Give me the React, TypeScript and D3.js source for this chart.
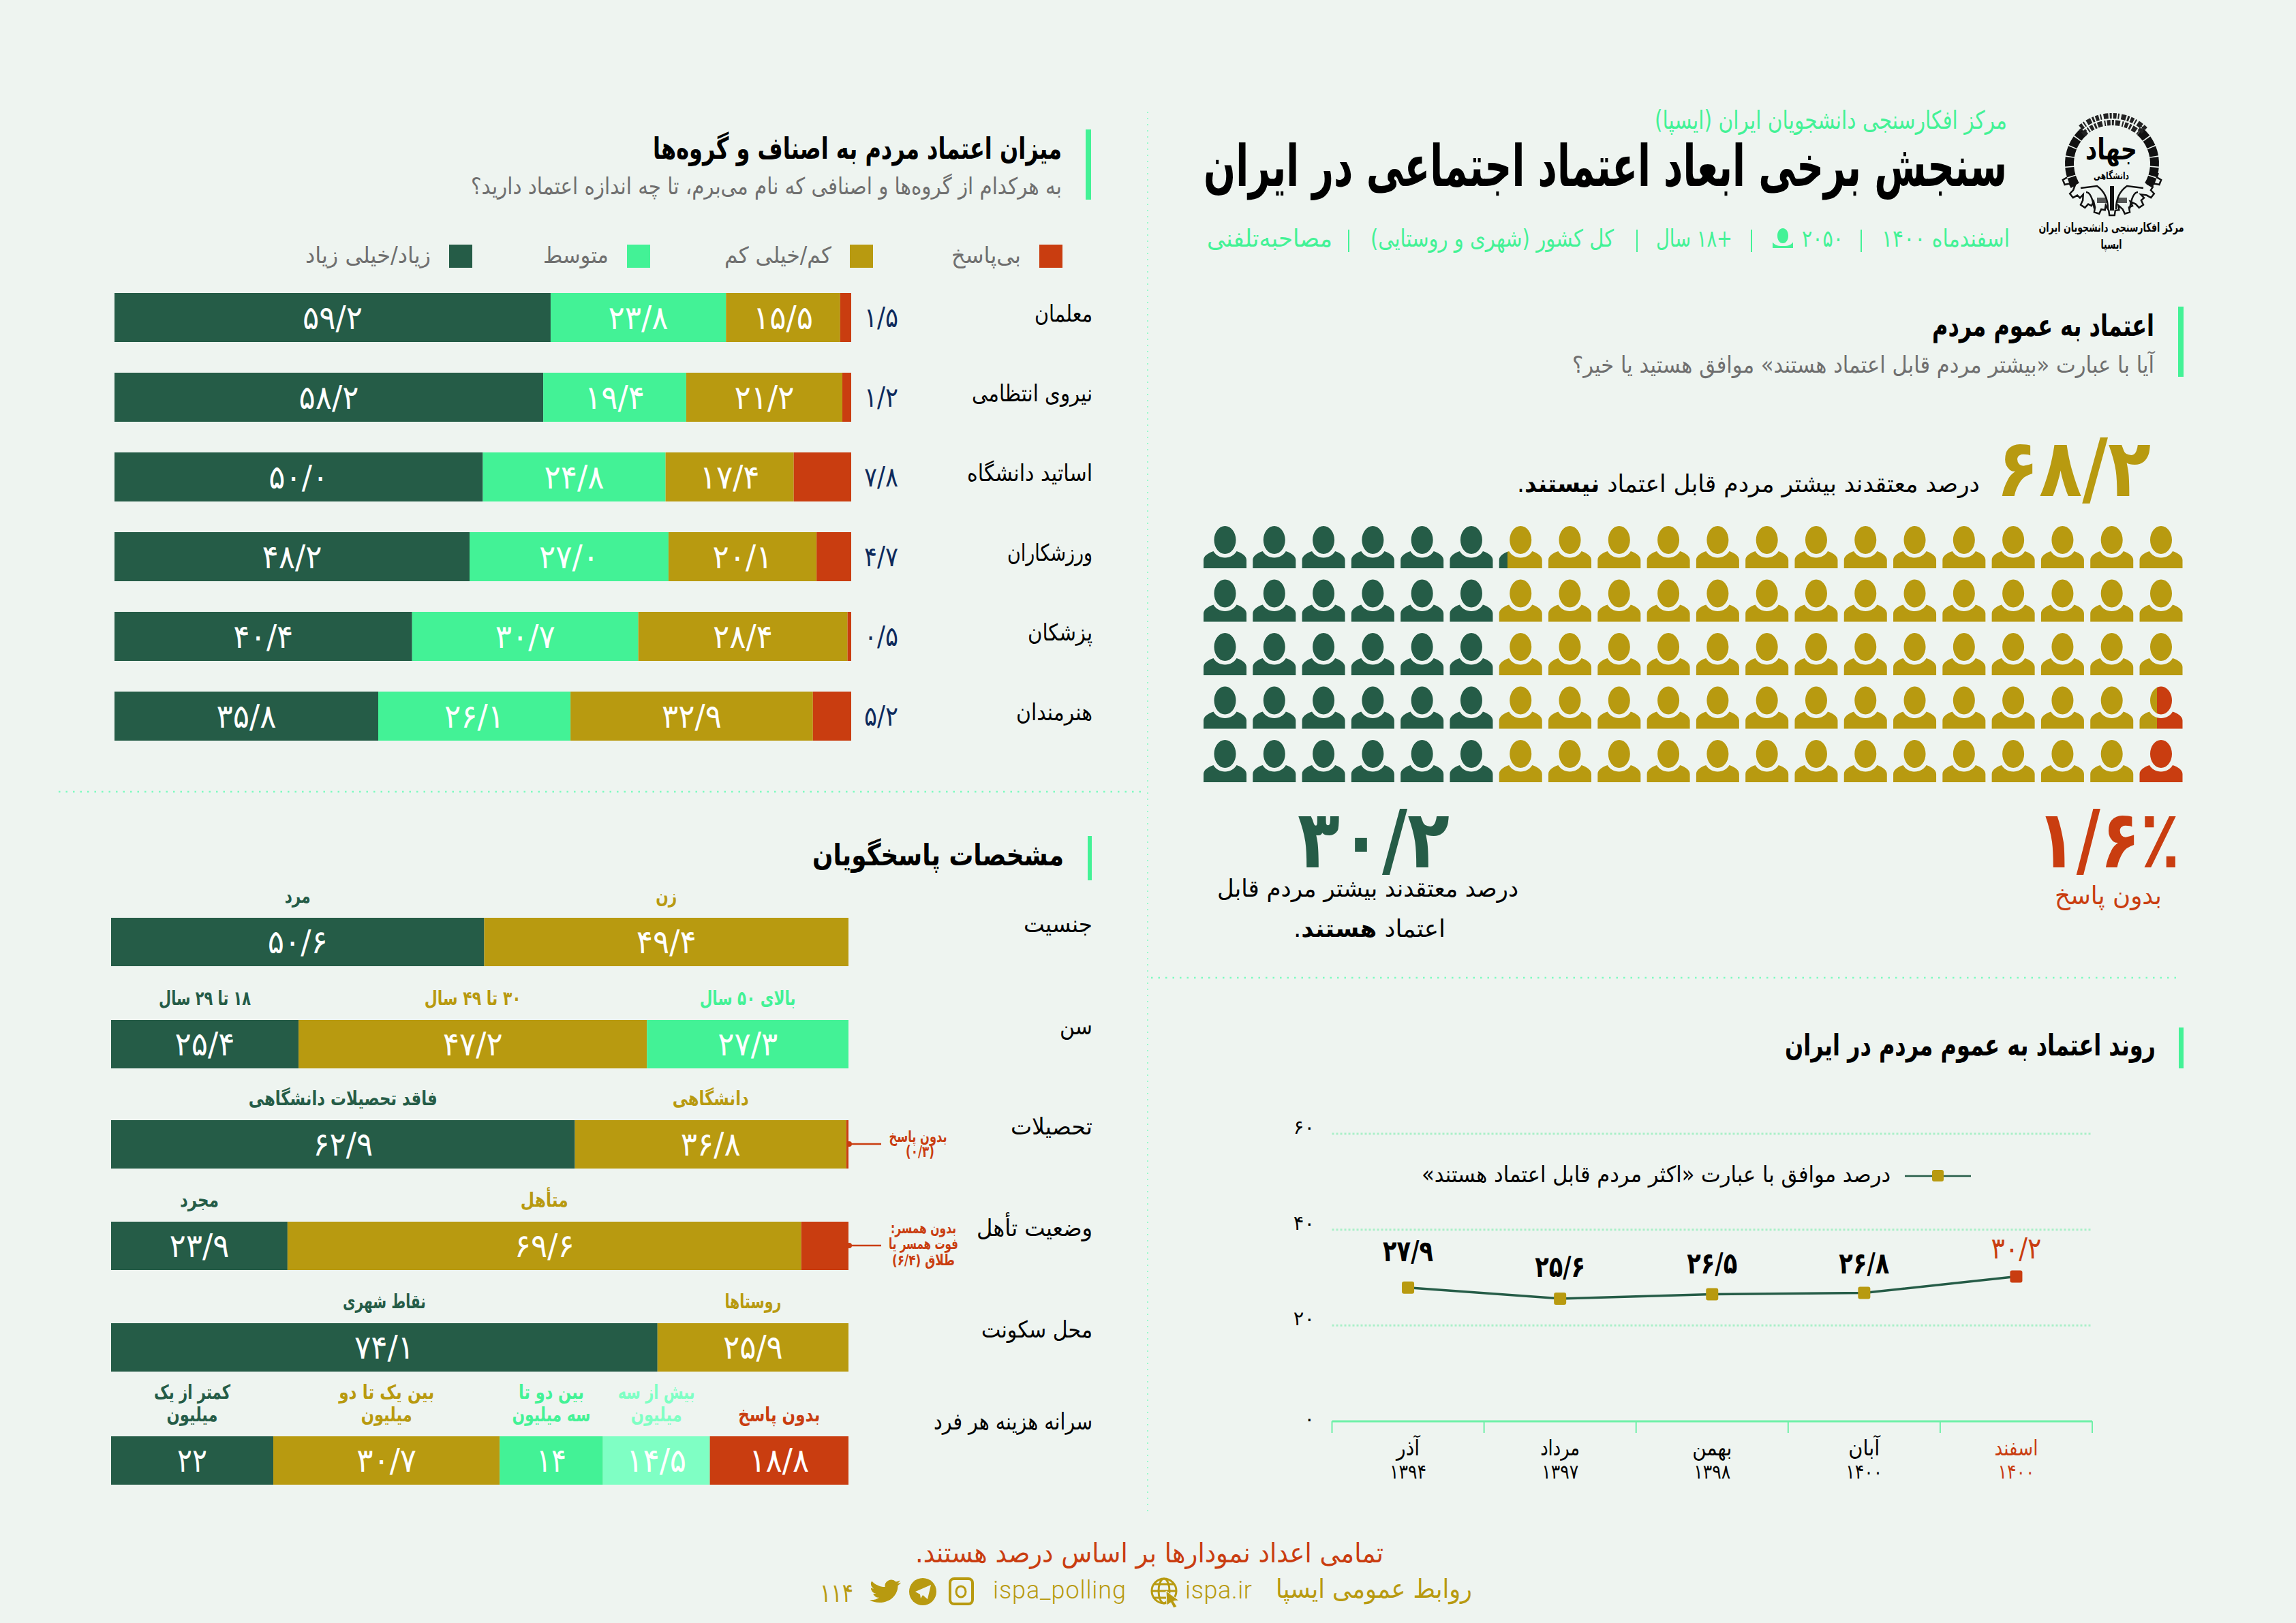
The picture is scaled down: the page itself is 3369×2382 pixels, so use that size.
import * as d3 from 'd3';

const BG = '#eef4f0';
const GREEN = '#255c47';
const MINT = '#43f296';
const PALE = '#7fffc4';
const GOLD = '#b89a10';
const RED = '#c93d10';
const NAVY = '#0d2a5c';
const GRAY = '#6f6f6f';
const FONT = '"DejaVu Sans", sans-serif';

// ── trust in groups ──
const groupNames = ['معلمان', 'نیروی انتظامی', 'اساتید دانشگاه', 'ورزشکاران', 'پزشکان', 'هنرمندان'];
const groupHigh = [59.2, 58.2, 50.0, 48.2, 40.4, 35.8];
const groupMid = [23.8, 19.4, 24.8, 27.0, 30.7, 26.1];
const groupLow = [15.5, 21.2, 17.4, 20.1, 28.4, 32.9];
const groupNone = [1.5, 1.2, 7.8, 4.7, 0.5, 5.2];
const legendNames = ['بی‌پاسخ', 'کم/خیلی کم', 'متوسط', 'زیاد/خیلی زیاد'];

// ── respondents ──
const demoNames = ['جنسیت', 'سن', 'تحصیلات', 'وضعیت تأهل', 'محل سکونت', 'سرانه هزینه هر فرد'];
const genderValues = [50.6, 49.4];
const genderLabels = [['مرد'], ['زن']];
const ageValues = [25.4, 47.2, 27.3];
const ageLabels = [['۱۸ تا ۲۹ سال'], ['۳۰ تا ۴۹ سال'], ['بالای ۵۰ سال']];
const eduValues = [62.9, 36.8, 0.3];
const eduLabels = [['فاقد تحصیلات دانشگاهی'], ['دانشگاهی'], []];
const maritalValues = [23.9, 69.6, 6.4];
const maritalLabels = [['مجرد'], ['متأهل'], []];
const placeValues = [74.1, 25.9];
const placeLabels = [['نقاط شهری'], ['روستاها']];
const costValues = [22, 30.7, 14, 14.5, 18.8];
const costLabels = [['کمتر از یک', 'میلیون'], ['بین یک تا دو', 'میلیون'], ['بین دو تا', 'سه میلیون'], ['بیش از سه', 'میلیون'], ['بدون پاسخ']];

// ── trend ──
const trendMonths = ['آذر', 'مرداد', 'بهمن', 'آبان', 'اسفند'];
const trendYears = ['۱۳۹۴', '۱۳۹۷', '۱۳۹۸', '۱۴۰۰', '۱۴۰۰'];
const trendValues = [27.9, 25.6, 26.5, 26.8, 30.2];
const trendTicks = [0, 20, 40, 60];

// ── people grid ──
const trustYes = 30.2;
const trustNone = 1.6;

const fa = (s: string | number) =>
  String(s).replace(/\d/g, d => '۰۱۲۳۴۵۶۷۸۹'[+d]).replace('.', '/');
const pct = (v: number) => fa(v.toFixed(1));
const pctShort = (v: number) => fa(Number.isInteger(v) ? v : v.toFixed(1));

function T({ x, y, w, size, fill = '#000', bold = false, anchor = 'right', children }: any) {
  const map: any = { right: 'start', left: 'end', center: 'middle' };
  return (
    <text
      x={x}
      y={y}
      fontSize={size}
      fill={fill}
      fontWeight={bold ? 700 : 400}
      textAnchor={map[anchor]}
      direction="rtl"
      textLength={w}
      lengthAdjust={w ? 'spacingAndGlyphs' : undefined}
    >
      {children}
    </text>
  );
}

const PERSON =
  'M31.5 0C40.3 0 47.5 9.2 47.5 20.5S40.3 41 31.5 41 15.5 31.8 15.5 20.5 22.7 0 31.5 0Z' +
  'M14.5 37C17.5 42.5 24 46.5 31.5 46.5S45.5 42.5 48.5 37C56.5 39.5 63 44 63 50V62H0V50C0 44 6.5 39.5 14.5 37Z';

function People() {
  const x = d3.scalePoint<number>().domain(d3.range(20)).range([1766, 3139.5]);
  const y = d3.scalePoint<number>().domain(d3.range(5)).range([772, 1086]);
  const cells = d3.cross(d3.range(20), d3.range(5));
  return (
    <g>
      {cells.map(([c, r]) => {
        const g = Math.max(0, Math.min(1, trustYes - (c * 5 + r)));
        const n = Math.max(0, Math.min(1, trustNone - ((19 - c) * 5 + (4 - r))));
        const id = `p${c}-${r}`;
        const split = (g > 0 && g < 1) || (n > 0 && n < 1);
        const solid = g === 1 ? GREEN : n === 1 ? RED : GOLD;
        return (
          <g key={id} transform={`translate(${x(c)},${y(r)})`}>
            {split && (
              <defs>
                <linearGradient id={id}>
                  <stop offset={g} stopColor={GREEN} />
                  <stop offset={g} stopColor={GOLD} />
                  <stop offset={1 - n} stopColor={GOLD} />
                  <stop offset={1 - n} stopColor={RED} />
                </linearGradient>
              </defs>
            )}
            <path d={PERSON} fill={split ? `url(#${id})` : solid} />
          </g>
        );
      })}
    </g>
  );
}

function GroupBars() {
  const x = d3.scaleLinear([0, 100], [168, 1249]);
  const y = d3.scaleBand<number>().domain(d3.range(6)).range([430, 1087]).paddingInner(45 / 117);
  const nameW = [85, 177, 184, 125, 95, 112];
  return (
    <g>
      {groupNames.map((name, i) => {
        const vals = [groupHigh[i], groupMid[i], groupLow[i], groupNone[i]];
        const cols = [GREEN, MINT, GOLD, RED];
        const starts = d3.cumsum(vals);
        const top = y(i)!;
        return (
          <g key={name}>
            {vals.map((v, k) => (
              <rect key={k} x={x(starts[k] - v)} y={top} width={x(v) - x(0)} height={y.bandwidth()} fill={cols[k]} />
            ))}
            {vals.slice(0, 3).map((v, k) => (
              <T key={k} x={x(starts[k] - v / 2)} y={top + 53} size={48} fill="#fff" anchor="center" w={88}>
                {pct(v)}
              </T>
            ))}
            <T x={1268} y={top + 50} size={40} fill={NAVY} anchor="left" w={50}>
              {pct(groupNone[i])}
            </T>
            <T x={1603} y={top + 42} size={34} w={nameW[i]}>
              {name}
            </T>
          </g>
        );
      })}
    </g>
  );
}

function DemoBars() {
  const rows = [
    { v: genderValues, l: genderLabels, c: [GREEN, GOLD], w: [38, 31] },
    { v: ageValues, l: ageLabels, c: [GREEN, GOLD, MINT], w: [135, 142, 141] },
    { v: eduValues, l: eduLabels, c: [GREEN, GOLD, RED], w: [277, 112, 0] },
    { v: maritalValues, l: maritalLabels, c: [GREEN, GOLD, RED], w: [57, 70, 0] },
    { v: placeValues, l: placeLabels, c: [GREEN, GOLD], w: [122, 83] },
    { v: costValues, l: costLabels, c: [GREEN, GOLD, MINT, PALE, RED], w: [112, 140, 96, 113, 120] },
  ];
  const tops = [1347, 1497, 1644, 1793, 1942, 2108];
  const nameW = [101, 48, 120, 170, 163, 233];
  const lineW: any = { میلیون: 75, 'سه میلیون': 115 };
  return (
    <g>
      {rows.map((row, i) => {
        const x = d3.scaleLinear([0, d3.sum(row.v)], [163, 1245]);
        const starts = d3.cumsum(row.v);
        const top = tops[i];
        return (
          <g key={i}>
            {row.v.map((v, k) => {
              const mid = x(starts[k] - v / 2);
              const lines = row.l[k];
              const text = pctShort(v);
              return (
                <g key={k}>
                  <rect x={x(starts[k] - v)} y={top} width={x(v) - x(0)} height={71} fill={row.c[k]} />
                  {lines.length > 0 && (
                    <T x={mid} y={top + 52} size={48} fill="#fff" anchor="center" w={text.length * 22}>
                      {text}
                    </T>
                  )}
                  {lines.map((s, j) => (
                    <T
                      key={j}
                      x={mid}
                      y={top - 22 - (lines.length - 1 - j) * 33}
                      size={29}
                      bold
                      fill={row.c[k]}
                      anchor="center"
                      w={j === 1 ? lineW[s] : row.w[k]}
                    >
                      {s}
                    </T>
                  ))}
                </g>
              );
            })}
            <T x={1603} y={i === 5 ? top - 10 : top + 21} size={34} w={nameW[i]}>
              {demoNames[i]}
            </T>
          </g>
        );
      })}
      <g stroke={RED} strokeWidth={2.5}>
        <line x1={1245} x2={1293} y1={1679} y2={1679} />
        <line x1={1245} x2={1293} y1={1828} y2={1828} />
      </g>
      <circle cx={1246} cy={1679} r={4} fill={RED} />
      <circle cx={1246} cy={1828} r={4} fill={RED} />
      <T x={1347} y={1676} size={23} bold fill={RED} anchor="center" w={85}>بدون پاسخ</T>
      <T x={1350} y={1698} size={23} bold fill={RED} anchor="center" w={42}>(۰/۳)</T>
      <T x={1355} y={1810} size={22} bold fill={RED} anchor="center" w={96}>بدون همسر:</T>
      <T x={1355} y={1833} size={22} bold fill={RED} anchor="center" w={102}>فوت همسر یا</T>
      <T x={1355} y={1857} size={22} bold fill={RED} anchor="center" w={92}>طلاق (۶/۴)</T>
    </g>
  );
}

function Trend() {
  const x = d3.scaleBand<number>().domain(d3.range(5)).range([1954.5, 3070]);
  const y = d3.scaleLinear([0, 60], [2086, 1664]);
  const line = d3.line<number>((_, i) => x(i)! + x.bandwidth() / 2, d => y(d));
  const nudge = [-39, -32, -31, -29, -27];
  return (
    <g>
      {trendTicks.map(t => (
        <g key={t}>
          {t > 0 && <line x1={1954.5} x2={3070} y1={y(t)} y2={y(t)} stroke="#a9efc8" strokeWidth={3} strokeDasharray="3 3" />}
          <T x={1929} y={y(t) - (t > 0 ? 0 : -6)} size={29} anchor="right">
            {fa(t)}
          </T>
        </g>
      ))}
      <line x1={1954.5} x2={3070} y1={2086} y2={2086} stroke="#6ff0a8" strokeWidth={3} />
      {d3.range(6).map(i => {
        const px = 1954.5 + i * x.step();
        return <line key={i} x1={px} x2={px} y1={2086} y2={2103} stroke="#6ff0a8" strokeWidth={2} />;
      })}
      <path d={line(trendValues)!} fill="none" stroke={GREEN} strokeWidth={3.5} />
      {trendValues.map((v, i) => {
        const cx = x(i)! + x.bandwidth() / 2;
        const last = i === trendValues.length - 1;
        const color = last ? RED : GOLD;
        return (
          <g key={i}>
            <rect x={cx - 9} y={y(v) - 9} width={18} height={18} rx={3} fill={color} />
            <T x={cx} y={y(v) + nudge[i]} size={43} bold={!last} fill={last ? RED : '#000'} anchor="center" w={74}>
              {pct(v)}
            </T>
            <T x={cx} y={2136} size={32} fill={last ? RED : '#000'} anchor="center" w={[34, 58, 58, 46, 64][i]}>
              {trendMonths[i]}
            </T>
            <T x={cx} y={2170} size={29} fill={last ? RED : '#000'} anchor="center" w={54}>
              {trendYears[i]}
            </T>
          </g>
        );
      })}
      <line x1={2795} x2={2892} y1={1726} y2={1726} stroke={GREEN} strokeWidth={2.5} />
      <rect x={2835} y={1717} width={17} height={17} rx={3} fill={GOLD} />
      <T x={2774} y={1735} size={33} w={688}>
        درصد موافق با عبارت «اکثر مردم قابل اعتماد هستند»
      </T>
    </g>
  );
}

function Logo() {
  const cx = 3099;
  const cy = 240;
  const arc = d3.arc();
  const seg = 0.235;
  const startAngles = d3.range(0.72, 1.95, seg);
  const teeth = d3.range(-1.2, 1.2001, 0.3);
  const gear = teeth.flatMap(t => {
    const a = Math.PI + t;
    return [
      [a - 0.15, 62] as [number, number],
      [a - 0.15, 69] as [number, number],
      [a - 0.07, 69] as [number, number],
      [a - 0.05, 76] as [number, number],
      [a + 0.05, 76] as [number, number],
      [a + 0.07, 69] as [number, number],
    ];
  });
  const radial = d3.lineRadial();
  return (
    <g>
      <g transform={`translate(${cx},${cy})`}>
        {startAngles.flatMap(a =>
          [a, -a - seg + 0.025].map(s => (
            <path
              key={s}
              d={arc({ innerRadius: 56, outerRadius: 69, startAngle: s, endAngle: s + seg - 0.025 })!}
              fill="#111"
            />
          )),
        )}
        <path
          d={arc({ innerRadius: 60, outerRadius: 70, startAngle: -0.72, endAngle: 0.72 })!}
          fill="none"
          stroke="#222"
          strokeWidth={8}
          strokeDasharray="5 2 2 3 7 2 3 2"
        />
        <path d={radial(gear)!} fill="none" stroke="#111" strokeWidth={2.5} />
      </g>
      <T x={cx - 1} y={234} size={43} bold anchor="center" w={76}>جهاد</T>
      <T x={cx - 1} y={263} size={15} bold anchor="center" w={52}>دانشگاهی</T>
      <g fill="none" stroke="#111" strokeWidth={2.5}>
        <path d={`M${cx - 46} 276L${cx - 22} 273Q${cx - 6} 284 ${cx - 6} 307`} />
        <path d={`M${cx + 46} 276L${cx + 22} 273Q${cx + 6} 284 ${cx + 6} 307`} />
        <path d={`M${cx - 38} 282Q${cx - 30} 282 ${cx - 26} 306M${cx + 38} 282Q${cx + 30} 282 ${cx + 26} 306`} />
      </g>
      <rect x={cx - 3} y={273} width={6} height={36} fill="#111" />
      <g fill="#111">
        <rect x={cx - 22} y={290} width={15} height={8} opacity={0.7} />
        <rect x={cx + 7} y={290} width={15} height={8} opacity={0.7} />
      </g>
      <T x={3098} y={340} size={18} bold anchor="center" w={213}>مرکز افکارسنجی دانشجویان ایران</T>
      <T x={3098} y={365} size={18} bold anchor="center" w={31}>ایسپا</T>
    </g>
  );
}

function Header() {
  const seps = [2731, 2570, 2402, 1979];
  return (
    <g>
      <T x={2945} y={189} size={37} fill={MINT} w={517}>مرکز افکارسنجی دانشجویان ایران (ایسپا)</T>
      <T x={2945} y={273} size={84} bold w={1179}>سنجش برخی ابعاد اعتماد اجتماعی در ایران</T>
      <T x={2949} y={362} size={35} fill={MINT} w={188}>اسفندماه ۱۴۰۰</T>
      <T x={2705} y={362} size={35} fill={MINT} w={61}>{fa(2050)}</T>
      <path d="M0 20.5C3 24 5 26 15 26S27 24 30 20.5V29H0ZM15 0C20 0 23 5 23 11S20 22 15 22 7 17 7 11 10 0 15 0Z" transform="translate(2601,335)" fill={MINT} />
      <T x={2542} y={362} size={35} fill={MINT} w={112}>+۱۸ سال</T>
      <T x={2368} y={362} size={35} fill={MINT} w={357}>کل کشور (شهری و روستایی)</T>
      <T x={1955} y={362} size={35} fill={MINT} w={184}>مصاحبه‌تلفنی</T>
      {seps.map(s => (
        <line key={s} x1={s} x2={s} y1={337} y2={370} stroke={MINT} strokeWidth={2} />
      ))}
    </g>
  );
}

function Footer() {
  return (
    <g fill={GOLD}>
      <T x={2030} y={2293} size={40} fill={RED} w={687}>تمامی اعداد نمودارها بر اساس درصد هستند.</T>
      <T x={2160} y={2345} size={38} fill={GOLD} w={288}>روابط عمومی ایسپا</T>
      <text x={1739} y={2346} fontSize={36} fontFamily="Roboto" fontWeight={300} textLength={98}>ispa.ir</text>
      <text x={1457} y={2346} fontSize={36} fontFamily="Roboto" fontWeight={300} textLength={195}>ispa_polling</text>
      <g fill="none" stroke={GOLD} strokeWidth={3}>
        <circle cx={1708} cy={2335} r={18} />
        <ellipse cx={1708} cy={2335} rx={8} ry={18} />
        <path d="M1690 2335H1726M1693 2325H1723M1693 2345H1723" />
        <rect x={1394} y={2317} width={33} height={37} rx={6} strokeWidth={4} />
        <ellipse cx={1410} cy={2336} rx={7} ry={8} />
      </g>
      <path d="M1711 2335L1730 2349 1722 2350 1727 2358 1722 2360 1718 2352 1712 2356Z" stroke={BG} strokeWidth={1} />
      <circle cx={1354} cy={2336} r={20} />
      <path d="M1343 2336L1366 2326 1361 2347 1354 2341 1351 2346 1350 2340Z" fill={BG} />
      <path
        transform="translate(1276,2315) scale(1.92,1.7)"
        d="M23.953 4.57a10 10 0 01-2.825.775 4.958 4.958 0 002.163-2.723c-.951.555-2.005.959-3.127 1.184a4.92 4.92 0 00-8.384 4.482C7.69 8.095 4.067 6.13 1.64 3.162a4.822 4.822 0 00-.666 2.475c0 1.71.87 3.213 2.188 4.096a4.904 4.904 0 01-2.228-.616v.06a4.923 4.923 0 003.946 4.827 4.996 4.996 0 01-2.212.085 4.936 4.936 0 004.604 3.417 9.867 9.867 0 01-6.102 2.105c-.39 0-.779-.023-1.17-.067a13.995 13.995 0 007.557 2.209c9.053 0 13.998-7.496 13.998-13.985 0-.21 0-.42-.015-.63A9.935 9.935 0 0024 4.59z"
      />
      <T x={1252} y={2351} size={38} fill={GOLD} w={49}>{fa(114)}</T>
    </g>
  );
}

export default function App() {
  const legendX = [1559, 1281, 954, 693];
  const legendW = [102, 157, 96, 184];
  const legendC = [RED, GOLD, MINT, GREEN];
  return (
    <svg
      width={3369}
      height={2382}
      viewBox="0 0 3369 2382"
      fontFamily={FONT}
      style={{ position: 'absolute', left: 0, top: 0, display: 'block' }}
    >
      <rect width={3369} height={2382} fill={BG} />
      <Logo />
      <Header />

      {/* general trust */}
      <rect x={3196} y={450} width={8} height={103} fill={MINT} />
      <T x={3161} y={493} size={44} bold w={326}>اعتماد به عموم مردم</T>
      <T x={3161} y={547} size={34} fill={GRAY} w={854}>آیا با عبارت «بیشتر مردم قابل اعتماد هستند» موافق هستید یا خیر؟</T>
      <T x={3156} y={728} size={118} bold fill={GOLD} w={227}>{fa('68.2')}</T>
      <text x={2905} y={722} fontSize={35} direction="rtl" textLength={679} lengthAdjust="spacingAndGlyphs">
        درصد معتقدند بیشتر مردم قابل اعتماد <tspan fontWeight={700}>نیستند</tspan>.
      </text>
      <People />
      <T x={2127} y={1273} size={118} bold fill={GREEN} w={223}>{fa('30.2')}</T>
      <T x={2228} y={1316} size={35} w={442}>درصد معتقدند بیشتر مردم قابل</T>
      <text x={2121} y={1375} fontSize={35} direction="rtl" textLength={223} lengthAdjust="spacingAndGlyphs">
        اعتماد <tspan fontWeight={700}>هستند</tspan>.
      </text>
      <T x={3199} y={1273} size={118} bold fill={RED} w={211}>{fa('1.6') + '٪'}</T>
      <T x={3172} y={1327} size={37} fill={RED} w={157}>بدون پاسخ</T>

      {/* dotted dividers */}
      <g stroke="#7dfcc0">
        <line x1={1689} x2={3201} y1={1435} y2={1435} strokeWidth={2.5} strokeDasharray="2.5 8" />
        <line x1={86} x2={1682} y1={1162} y2={1162} strokeWidth={2.5} strokeDasharray="2.5 8" />
        <line x1={1684} x2={1684} y1={164} y2={2218} strokeWidth={1.5} strokeDasharray="2 7" />
      </g>

      {/* trend */}
      <rect x={3197} y={1508} width={7} height={60} fill={MINT} />
      <T x={3163} y={1549} size={44} bold w={544}>روند اعتماد به عموم مردم در ایران</T>
      <Trend />

      {/* groups */}
      <rect x={1593} y={190} width={8} height={103} fill={MINT} />
      <T x={1558} y={233} size={44} bold w={600}>میزان اعتماد مردم به اصناف و گروه‌ها</T>
      <T x={1558} y={285} size={34} fill={GRAY} w={867}>به هرکدام از گروه‌ها و اصنافی که نام می‌برم، تا چه اندازه اعتماد دارید؟</T>
      {legendNames.map((name, i) => (
        <g key={name}>
          <rect x={legendX[i] - 34} y={359} width={34} height={34} fill={legendC[i]} />
          <T x={legendX[i] - 61} y={386} size={33} fill={GRAY} w={legendW[i]}>{name}</T>
        </g>
      ))}
      <GroupBars />

      {/* respondents */}
      <rect x={1596} y={1227} width={6} height={65} fill={MINT} />
      <T x={1561} y={1270} size={44} bold w={369}>مشخصات پاسخگویان</T>
      <DemoBars />

      <Footer />
    </svg>
  );
}
